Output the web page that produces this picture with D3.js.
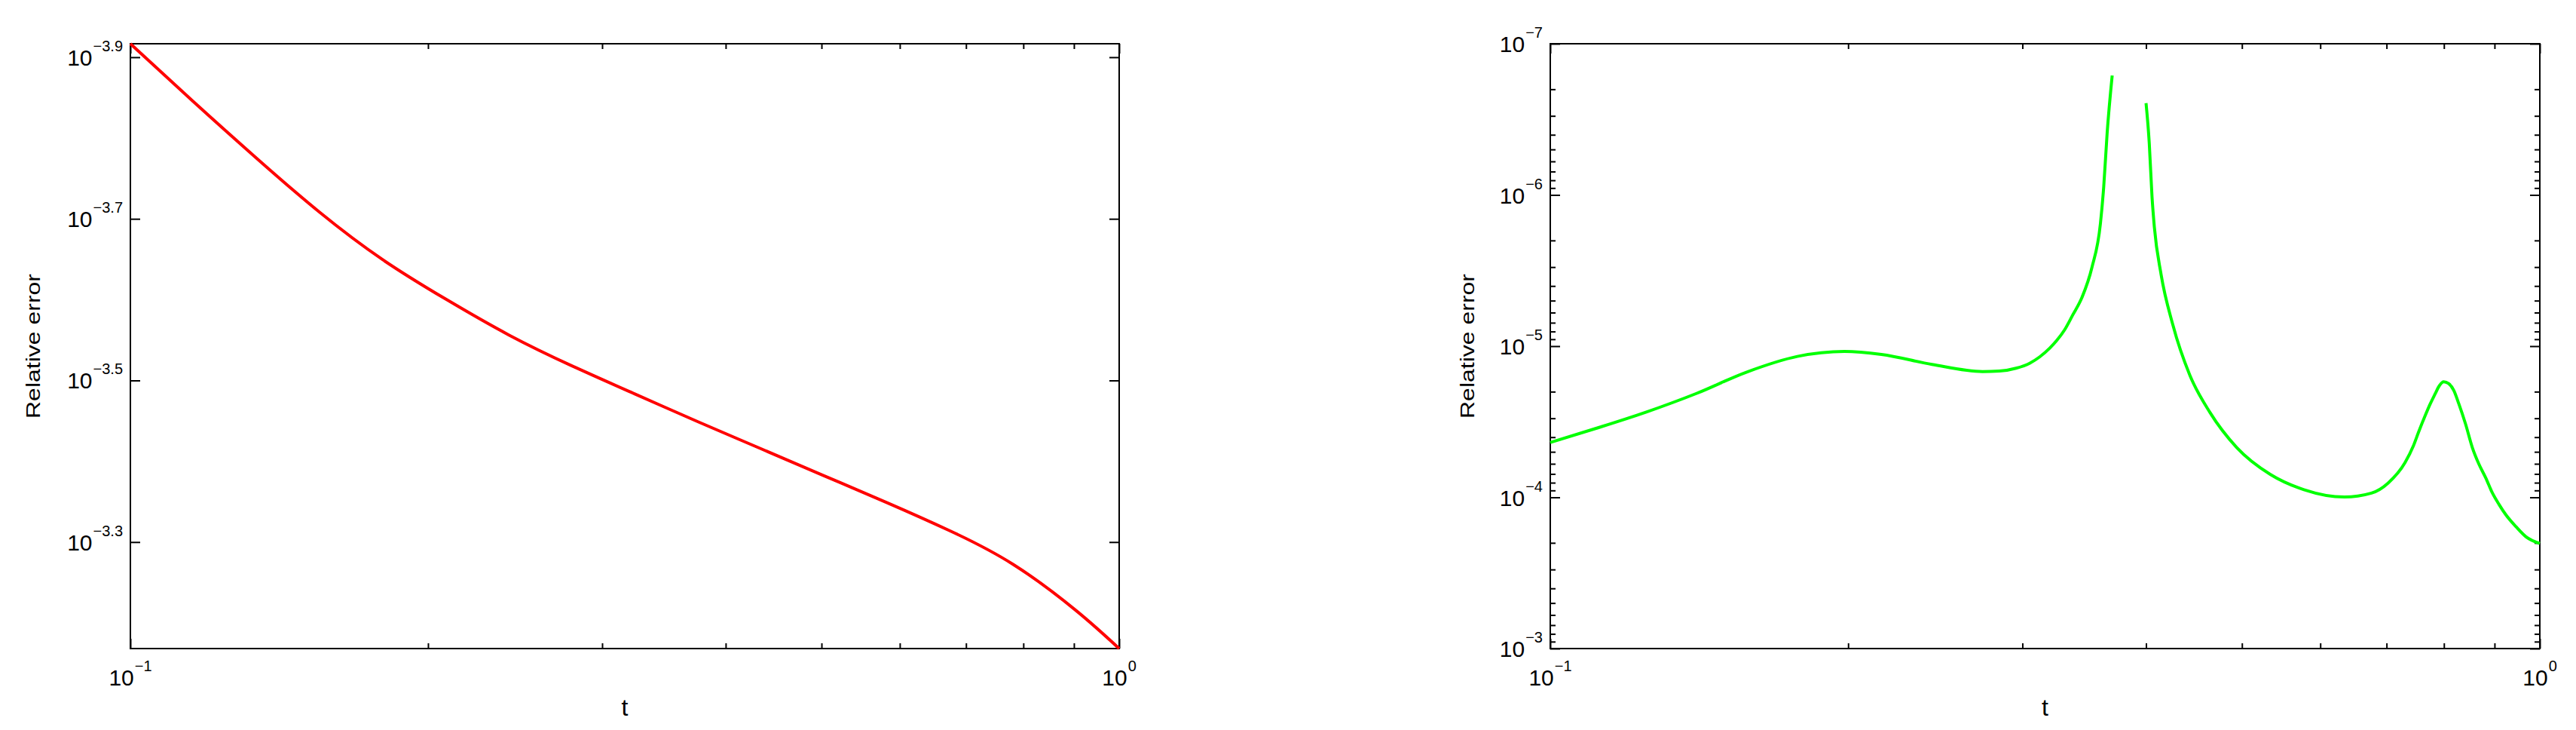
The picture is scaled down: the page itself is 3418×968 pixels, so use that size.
<!DOCTYPE html>
<html>
<head>
<meta charset="utf-8">
<script src="https://cdn.jsdelivr.net/npm/d3@7"></script>
<style>
html, body { margin: 0; padding: 0; background: #fff; }
svg { display: block; font-family: "Liberation Sans", Arial, Helvetica, sans-serif; }
</style>
</head>
<body>
<svg id="chart" width="3418" height="968"></svg>
<script>
// ---------------- data ----------------
// Left panel: t and log10(relative error)
const leftT = [0.1, 0.1158, 0.1342, 0.1554, 0.1800, 0.2084, 0.2414, 0.2796, 0.3237, 0.3750, 0.4342,
  0.5029, 0.5825, 0.6746, 0.7814, 0.9050, 1.0];
const leftLog10Err = [-3.9167, -3.8451, -3.7749, -3.7081, -3.6494, -3.6007, -3.5563, -3.5181, -3.4833,
  -3.4489, -3.4155, -3.3821, -3.3487, -3.3138, -3.2723, -3.2150, -3.1682];

// Right panel: t and log10(relative error); null marks the gap in the curve
const rightT = [0.1, 0.1111, 0.1249, 0.1405, 0.158, 0.1777, 0.1983, 0.2161, 0.2431, 0.2734,
  0.2843, 0.2956, 0.3051, 0.3123, 0.3197, 0.3248, 0.3311, 0.3372, 0.3445, 0.3527, 0.3597, 0.3625,
  0.3654, 0.3697,
  0.385,
  0.4, 0.403, 0.4056, 0.4078, 0.4142, 0.4257, 0.4429, 0.464, 0.4941, 0.5344, 0.5776, 0.6346, 0.6758,
  0.7027, 0.7307, 0.7451, 0.7539, 0.7659, 0.7750, 0.7840, 0.7901, 0.7995, 0.8089, 0.8185, 0.8282,
  0.8413, 0.8547, 0.8681, 0.8817, 0.8955, 0.9099, 0.9242, 0.9461, 0.9685, 1.0];
const rightLog10Err = [-4.363, -4.455, -4.563, -4.687, -4.829, -4.932, -4.965, -4.945, -4.879, -4.832,
  -4.835, -4.854, -4.887, -4.929, -4.987, -5.036, -5.110, -5.205, -5.320, -5.521, -5.810, -6.055,
  -6.411, -6.790,
  null,
  -6.607, -6.344, -5.988, -5.788, -5.476, -5.142, -4.808, -4.563, -4.329, -4.151, -4.051, -4.002, -4.028,
  -4.095, -4.229, -4.340, -4.429, -4.541, -4.619, -4.686, -4.730, -4.764, -4.752, -4.708, -4.619,
  -4.485, -4.329, -4.218, -4.129, -4.029, -3.951, -3.884, -3.806, -3.739, -3.695];

// Axis ticks
const xMajorTicks = [0.1, 1];
const xMajorLabels = ["\u22121", "0"];
const xMinorTicks = [0.2, 0.3, 0.4, 0.5, 0.6, 0.7, 0.8, 0.9];

const leftYTickExps = [-3.9, -3.7, -3.5, -3.3];
const leftYTickLabels = ["\u22123.9", "\u22123.7", "\u22123.5", "\u22123.3"];

const rightYTickExps = [-7, -6, -5, -4, -3];
const rightYTickLabels = ["\u22127", "\u22126", "\u22125", "\u22124", "\u22123"];
const rightYMinorMultipliers = [2, 3, 4, 5, 6, 7, 8, 9];

const xLabel = "t";
const yLabel = "Relative error";

// ---------------- drawing ----------------
const svg = d3.select("#chart");
svg.append("rect").attr("width", 3418).attr("height", 968).attr("fill", "#fff");

const plotTop = 58, plotBottom = 860;
const MAJOR = 13, MINOR = 7;

function supLabel(g, x, y, anchor, exp) {
  const t = g.append("text")
    .attr("x", x).attr("y", y)
    .attr("text-anchor", anchor)
    .attr("fill", "#000");
  t.append("tspan").attr("font-size", 30).text("10");
  t.append("tspan").attr("font-size", 20).attr("dy", -19).attr("dx", 1).text(exp);
  return t;
}

function drawTicks(g, x, y, x0, x1, yMajor, yMinor) {
  const style = sel => {
    sel.select(".domain").remove();
    sel.selectAll("line").attr("stroke", "#000").attr("stroke-width", 2);
  };
  g.append("g").attr("transform", `translate(0,${plotBottom})`)
    .call(d3.axisBottom(x).tickValues(xMinorTicks).tickSize(-MINOR).tickFormat("")).call(style);
  g.append("g").attr("transform", `translate(0,${plotTop})`)
    .call(d3.axisTop(x).tickValues(xMinorTicks).tickSize(-MINOR).tickFormat("")).call(style);
  g.append("g").attr("transform", `translate(0,${plotBottom})`)
    .call(d3.axisBottom(x).tickValues(xMajorTicks).tickSize(-MAJOR).tickFormat("")).call(style);
  g.append("g").attr("transform", `translate(0,${plotTop})`)
    .call(d3.axisTop(x).tickValues(xMajorTicks).tickSize(-MAJOR).tickFormat("")).call(style);
  g.append("g").attr("transform", `translate(${x0},0)`)
    .call(d3.axisLeft(y).tickValues(yMajor).tickSize(-MAJOR).tickFormat("")).call(style);
  g.append("g").attr("transform", `translate(${x1},0)`)
    .call(d3.axisRight(y).tickValues(yMajor).tickSize(-MAJOR).tickFormat("")).call(style);
  if (yMinor.length) {
    g.append("g").attr("transform", `translate(${x0},0)`)
      .call(d3.axisLeft(y).tickValues(yMinor).tickSize(-MINOR).tickFormat("")).call(style);
    g.append("g").attr("transform", `translate(${x1},0)`)
      .call(d3.axisRight(y).tickValues(yMinor).tickSize(-MINOR).tickFormat("")).call(style);
  }
}

function drawPanel(p) {
  const g = svg.append("g");
  const x = d3.scaleLog().domain([0.1, 1]).range([p.x0, p.x1]);
  const y = d3.scaleLog().domain(p.yDomain).range([plotTop, plotBottom]);

  g.append("rect").attr("x", p.x0).attr("y", plotTop)
    .attr("width", p.x1 - p.x0).attr("height", plotBottom - plotTop)
    .attr("fill", "none").attr("stroke", "#000").attr("stroke-width", 2);

  drawTicks(g, x, y, p.x0, p.x1, p.yMajor, p.yMinor);

  p.yMajor.forEach((v, i) => supLabel(g, p.x0 - 10, y(v) + 11, "end", p.yLabels[i]));
  xMajorTicks.forEach((v, i) => supLabel(g, x(v), plotBottom + 49, "middle", xMajorLabels[i]));

  g.append("text").attr("x", (p.x0 + p.x1) / 2).attr("y", 949)
    .attr("text-anchor", "middle").attr("font-size", 32).attr("fill", "#000").text(xLabel);
  g.append("text")
    .attr("transform", `translate(${p.yLabelX},${(plotTop + plotBottom) / 2}) rotate(-90) scale(1,0.8)`)
    .attr("text-anchor", "middle").attr("font-size", 32).attr("fill", "#000").text(yLabel);

  const data = p.t.map((t, i) => ({ t, v: p.logv[i] == null ? null : Math.pow(10, p.logv[i]) }));
  const line = d3.line()
    .defined(d => d.v != null)
    .x(d => x(d.t)).y(d => y(d.v))
    .curve(p.curve);
  g.append("path").datum(data)
    .attr("d", line).attr("fill", "none")
    .attr("stroke", p.color).attr("stroke-width", 4)
    .attr("stroke-linejoin", "round");
}

const leftVals = leftLog10Err.map(v => Math.pow(10, v));
drawPanel({
  x0: 173, x1: 1485,
  yDomain: d3.extent(leftVals),
  yMajor: leftYTickExps.map(e => Math.pow(10, e)),
  yLabels: leftYTickLabels,
  yMinor: [],
  yLabelX: 53,
  t: leftT, logv: leftLog10Err,
  color: "#ff0000",
  curve: d3.curveNatural
});

const rightMinor = [];
rightYTickExps.slice(0, -1).forEach(e => rightYMinorMultipliers.forEach(m => rightMinor.push(m * Math.pow(10, e))));
drawPanel({
  x0: 2057, x1: 3370,
  yDomain: [Math.pow(10, rightYTickExps[0]), Math.pow(10, rightYTickExps[rightYTickExps.length - 1])],
  yMajor: rightYTickExps.map(e => Math.pow(10, e)),
  yLabels: rightYTickLabels,
  yMinor: rightMinor,
  yLabelX: 1956,
  t: rightT, logv: rightLog10Err,
  color: "#00ff00",
  curve: d3.curveMonotoneX
});
</script>
</body>
</html>
